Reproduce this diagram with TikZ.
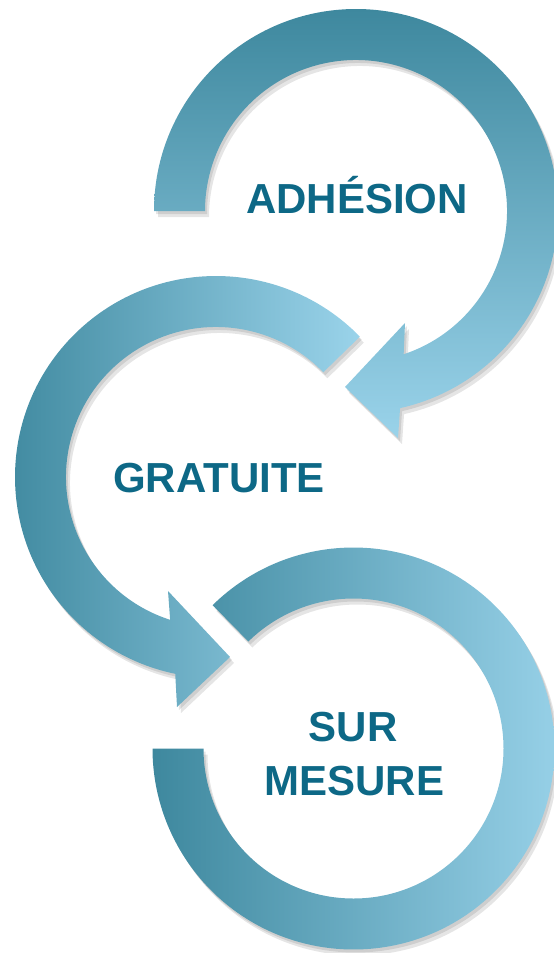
\documentclass[tikz,border=0pt]{standalone}
\usepackage{fontspec}
\setmainfont{Liberation Sans}
\definecolor{dk}{HTML}{3E889E}
\definecolor{lt}{HTML}{9AD3EA}
\definecolor{txt}{HTML}{0D6886}
\newcommand\PathTop{([shift={(180:202)}]356,211) arc[start angle=180,end angle=437.4,radius=202] -- (398,438) -- (345,387) -- (405,323) -- ([shift={(431.6:151)}]356,211) arc[start angle=431.6,end angle=180,radius=151] -- cycle}
\newcommand\PathMid{([shift={(-44.3:201)}]216,477) arc[start angle=-44.3,end angle=-258.3,radius=201] -- (177,707) -- (230,657) -- (168,591) -- ([shift={(-252.2:150)}]216,477) arc[start angle=-252.2,end angle=-44.3,radius=150] -- cycle}
\newcommand\PathBot{([shift={(225.5:201)}]353.5,748.5) arc[start angle=225.5,end angle=540,radius=201] -- ([shift={(540:150)}]353.5,748.5) arc[start angle=540,end angle=225.5,radius=150] -- cycle}
\begin{document}
\begin{tikzpicture}[x=1pt,y=-1pt]
\tikzset{
  shad/.style={fill=black, opacity=0.10},
  lbl/.style={text=txt, font=\fontsize{42}{50}\selectfont\bfseries, inner sep=0pt, anchor=base}
}
\useasboundingbox (0,0) rectangle (554,953);
% bottom arrow
\fill[shad, shift={(2,3)}] \PathBot;
\fill[shad, shift={(4,6)}] \PathBot;
\shade[left color=dk, right color=lt] \PathBot;
% middle arrow
\fill[shad, shift={(2,3)}] \PathMid;
\fill[shad, shift={(4,6)}] \PathMid;
\shade[left color=dk, right color=lt] \PathMid;
% top arrow
\fill[shad, shift={(2,3)}] \PathTop;
\fill[shad, shift={(4,6)}] \PathTop;
\shade[top color=dk, bottom color=lt] \PathTop;
% labels
\node[lbl] (adh) at (357,213) {ADHÉSION};
\node[lbl] (grat) at (219,492) {GRATUITE};
\node[lbl] (sur) at (353,741) {SUR};
\node[lbl] (mes) at (354.5,795) {MESURE};
\end{tikzpicture}
\end{document}
